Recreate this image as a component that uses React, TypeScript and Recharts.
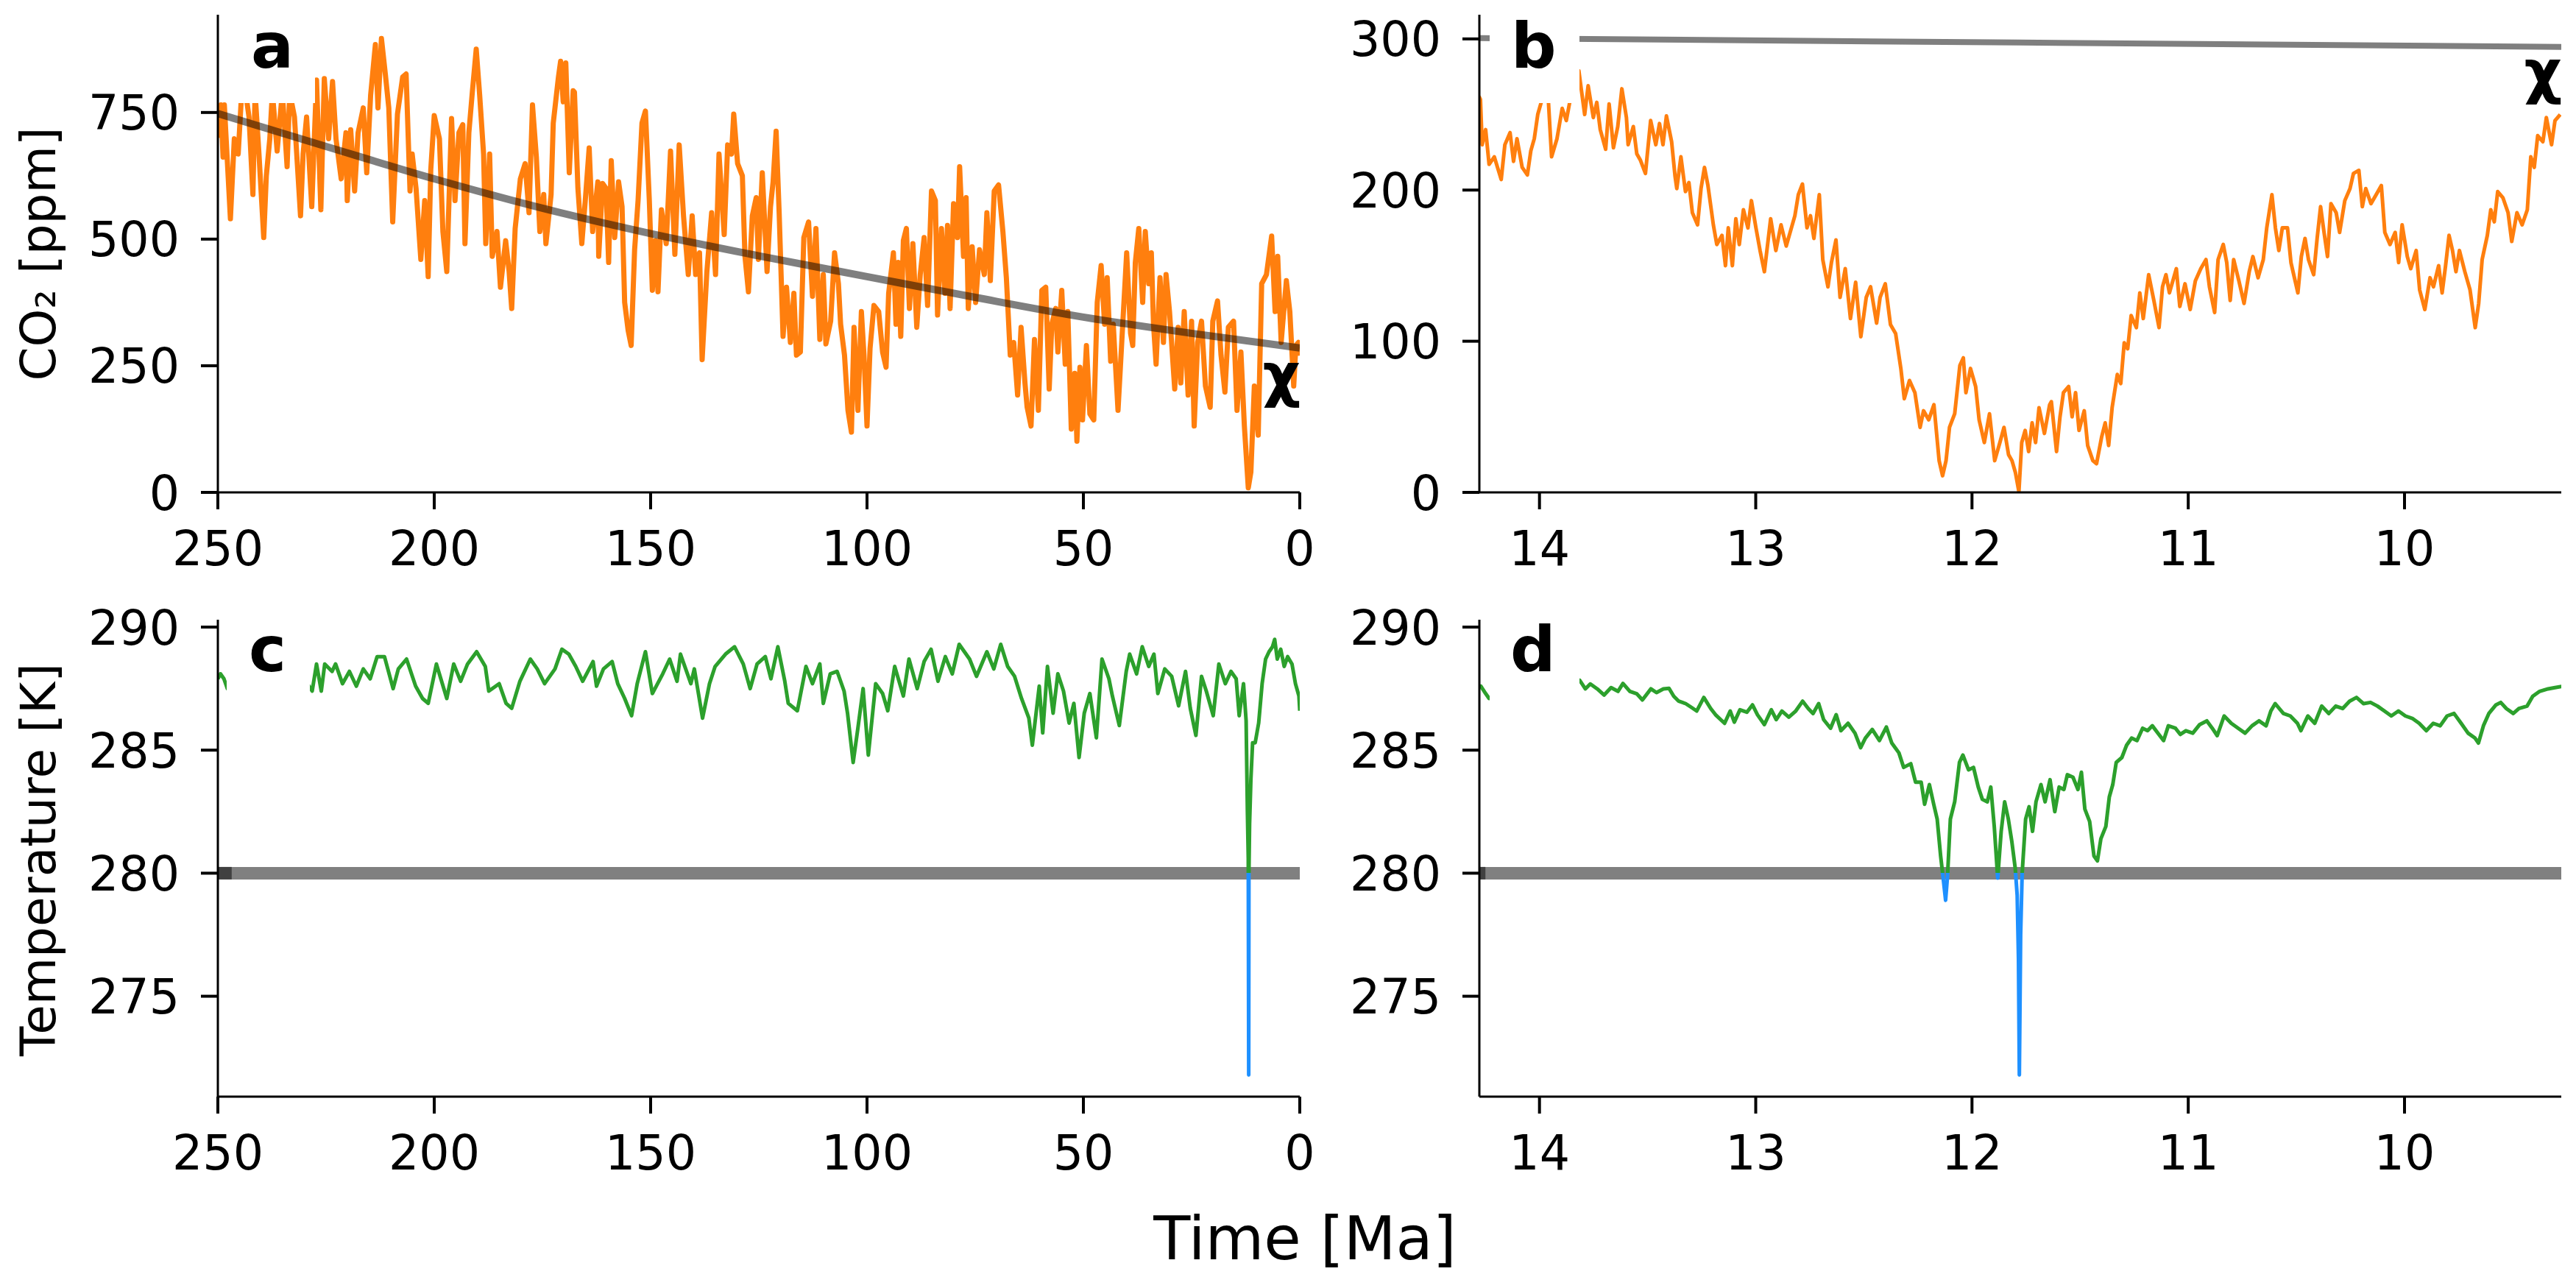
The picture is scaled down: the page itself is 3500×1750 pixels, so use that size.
import React from 'react';
import { LineChart, Line, XAxis, YAxis } from 'recharts';

const FONT = "'DejaVu Sans', sans-serif";

// ---------------- DATA ----------------
// Panel a: CO2 [ppm] vs time [Ma], 250 -> 0
const CO2_LONG: [number, number][] = [
  [250, 700], [249.3, 765], [248.8, 662], [248.5, 765], [247.1, 540], [246.2, 698], [245.3, 668], [244.5, 790], [243.6, 790], [242.8, 741],
  [241.9, 588], [241.4, 790], [240.5, 668], [239.4, 503], [238.8, 625], [238.0, 698], [237.4, 790], [236.3, 674], [235.1, 790], [234.0, 643],
  [233.4, 790], [232.3, 741], [230.9, 546], [230.3, 668], [229.5, 741], [228.3, 564], [227.2, 814], [226.2, 558], [225.4, 817], [224.4, 698],
  [223.5, 811], [222.7, 698], [221.5, 619], [220.4, 710], [220.1, 576], [219.3, 716], [218.4, 595], [217.6, 710], [216.4, 759], [215.6, 631],
  [214.7, 784], [213.6, 884], [213.0, 759], [212.2, 896], [211.3, 826], [210.5, 759], [209.6, 534], [208.5, 747], [207.3, 820], [206.5, 826],
  [205.6, 595], [205.1, 668], [204.2, 600], [203.1, 460], [202.2, 576], [201.4, 426], [200.8, 637], [200.0, 744], [198.8, 698], [198.0, 515],
  [197.1, 436], [196.0, 738], [195.2, 576], [194.3, 710], [193.4, 726], [192.9, 491], [192.0, 710], [191.2, 790], [190.3, 875], [189.5, 784],
  [188.6, 668], [188.1, 491], [187.2, 668], [186.6, 466], [185.5, 515], [184.7, 405], [183.5, 497], [182.7, 436], [182.1, 363], [181.3, 521],
  [180.1, 619], [179.0, 649], [178.1, 552], [177.3, 765], [176.4, 662], [175.6, 515], [174.7, 588], [174.2, 491], [173.0, 588], [172.5, 729],
  [171.3, 820], [170.8, 851], [170.2, 771], [169.6, 848], [168.8, 631], [167.9, 793], [167.6, 790], [166.8, 600], [165.9, 491], [165.1, 576],
  [164.2, 680], [163.4, 515], [162.2, 613], [162.0, 466], [161.1, 610], [160.3, 600], [159.7, 454], [159.1, 655], [158.3, 503], [157.4, 613],
  [156.6, 564], [156.0, 375], [155.2, 320], [154.5, 290], [153.7, 479], [152.9, 576], [152.0, 729], [151.2, 753], [150.3, 576], [149.6, 399],
  [148.9, 497], [148.3, 396], [147.5, 558], [146.4, 491], [145.4, 674], [144.4, 470], [143.4, 686], [142.4, 546], [141.3, 430], [140.4, 546],
  [139.6, 430], [138.7, 473], [138.1, 262], [137.0, 436], [135.9, 552], [135.0, 430], [134.2, 668], [133.0, 509], [132.2, 686], [131.3, 668],
  [130.8, 747], [129.9, 649], [128.8, 625], [128.2, 466], [127.4, 396], [126.5, 546], [125.6, 582], [125.1, 460], [124.2, 631], [123.1, 436],
  [122.3, 564], [121.7, 613], [121.0, 713], [120.3, 552], [119.4, 308], [118.6, 405], [117.7, 296], [116.9, 393], [116.3, 271], [115.4, 277],
  [114.6, 503], [113.5, 534], [112.6, 387], [111.8, 521], [110.9, 302], [110.1, 430], [109.5, 293], [108.4, 338], [107.5, 473], [106.6, 412],
  [106.1, 332], [105.2, 271], [104.4, 162], [103.6, 119], [103.0, 326], [102.1, 162], [101.3, 357], [100.7, 271], [100.0, 131], [99.3, 284],
  [98.4, 369], [97.3, 357], [96.4, 277], [95.6, 247], [95.0, 393], [93.9, 473], [93.3, 332], [92.8, 454], [92.2, 308], [91.6, 497],
  [90.9, 521], [90.2, 363], [89.4, 491], [88.5, 326], [87.7, 430], [86.8, 503], [86.0, 369], [85.1, 595], [84.2, 576], [83.7, 350],
  [82.8, 521], [82.0, 393], [81.4, 527], [80.8, 363], [80.0, 570], [79.1, 503], [78.6, 643], [77.7, 466], [77.1, 582], [76.6, 363],
  [75.7, 485], [74.9, 375], [74.0, 479], [72.9, 430], [72.3, 552], [71.5, 418], [70.6, 595], [69.6, 607], [68.6, 515], [67.8, 424],
  [66.9, 271], [66.1, 296], [65.2, 192], [64.4, 326], [63.5, 216], [63.0, 168], [62.1, 131], [61.3, 302], [60.4, 162], [59.6, 399],
  [58.7, 405], [57.9, 204], [57.3, 332], [56.4, 363], [55.9, 277], [55.0, 399], [54.2, 253], [53.6, 357], [52.8, 125], [52.0, 235],
  [51.5, 101], [50.8, 247], [50.2, 143], [49.3, 290], [48.5, 155], [47.6, 143], [46.8, 375], [45.9, 448], [45.1, 332], [44.5, 424],
  [43.7, 259], [43.1, 332], [42.0, 162], [41.1, 302], [40.0, 473], [39.1, 314], [38.6, 290], [38.0, 454], [37.2, 521], [36.3, 375],
  [35.7, 515], [34.9, 412], [34.3, 473], [33.8, 332], [33.2, 253], [32.3, 424], [31.5, 296], [30.9, 430], [30.1, 357], [28.9, 204],
  [28.1, 326], [27.5, 216], [26.7, 357], [25.8, 192], [25.0, 338], [24.4, 131], [23.6, 296], [22.7, 338], [21.8, 210], [20.7, 168],
  [20.1, 338], [19.0, 378], [18.2, 271], [17.3, 198], [16.5, 326], [15.3, 338], [14.5, 162], [13.6, 277], [12.8, 131], [11.9, 9],
  [11.3, 40], [10.5, 210], [9.6, 113], [8.8, 412], [7.7, 430], [6.5, 506], [5.7, 357], [5.1, 466], [4.3, 296], [3.1, 418],
  [2.3, 357], [1.4, 210], [0.9, 290], [0.3, 296], [0, 270],
];

const CO2_LONG_TREND: [number, number][] = [
  [250, 748], [225, 683], [200, 619], [175, 561], [150, 511], [125, 467], [100, 426], [75, 385], [50, 346], [25, 314], [0, 285],
];

// Panel b: CO2 [ppm], 14.3 -> 9.3 Ma
const CO2_ZOOM: [number, number][] = [
  [14.28, 262], [14.273, 260], [14.265, 230], [14.249, 240], [14.233, 217], [14.209, 222], [14.177, 207], [14.16, 230], [14.136, 238], [14.12, 219],
  [14.104, 234], [14.08, 215], [14.056, 210], [14.04, 226], [14.024, 234], [14.008, 250], [13.984, 262], [13.96, 262], [13.944, 222], [13.919, 234],
  [13.895, 254], [13.876, 246], [13.855, 262], [13.835, 272], [13.818, 279], [13.807, 267], [13.791, 250], [13.775, 269], [13.751, 248], [13.735, 258],
  [13.719, 240], [13.694, 227], [13.678, 257], [13.658, 228], [13.638, 242], [13.619, 267], [13.598, 248], [13.59, 230], [13.566, 242], [13.55, 224],
  [13.534, 220], [13.51, 211], [13.486, 246], [13.462, 230], [13.445, 244], [13.429, 230], [13.413, 249], [13.389, 232], [13.373, 209], [13.365, 201],
  [13.346, 222], [13.325, 199], [13.309, 205], [13.293, 185], [13.269, 177], [13.253, 201], [13.237, 215], [13.221, 203], [13.196, 177], [13.18, 164],
  [13.156, 170], [13.14, 150], [13.127, 175], [13.108, 150], [13.092, 181], [13.076, 164], [13.057, 187], [13.036, 175], [13.02, 193], [12.999, 175],
  [12.98, 160], [12.96, 146], [12.931, 181], [12.907, 160], [12.883, 177], [12.859, 163], [12.835, 175], [12.819, 183], [12.803, 197], [12.784, 204],
  [12.763, 175], [12.747, 183], [12.731, 168], [12.706, 197], [12.69, 154], [12.666, 136], [12.65, 152], [12.629, 167], [12.61, 129], [12.586, 148],
  [12.562, 115], [12.538, 139], [12.514, 103], [12.489, 129], [12.469, 136], [12.441, 112], [12.425, 129], [12.401, 138], [12.377, 111], [12.353, 105],
  [12.329, 82], [12.313, 62], [12.289, 74], [12.264, 66], [12.24, 43], [12.224, 54], [12.2, 48], [12.176, 58], [12.152, 21], [12.136, 11],
  [12.12, 21], [12.104, 43], [12.08, 52], [12.056, 84], [12.04, 89], [12.028, 66], [12.007, 82], [11.983, 70], [11.967, 48], [11.943, 33],
  [11.919, 52], [11.895, 21], [11.871, 33], [11.852, 43], [11.831, 25], [11.815, 21], [11.799, 13], [11.783, 0.5], [11.77, 33], [11.754, 41],
  [11.738, 27], [11.722, 46], [11.706, 33], [11.69, 56], [11.665, 39], [11.641, 58], [11.633, 60], [11.609, 27], [11.593, 50], [11.577, 66],
  [11.553, 70], [11.537, 50], [11.521, 66], [11.505, 41], [11.481, 54], [11.465, 31], [11.441, 21], [11.424, 19], [11.4, 37], [11.384, 46],
  [11.368, 31], [11.352, 56], [11.328, 78], [11.312, 72], [11.296, 99], [11.28, 95], [11.264, 117], [11.24, 109], [11.224, 132], [11.208, 115],
  [11.183, 144], [11.159, 127], [11.135, 109], [11.119, 136], [11.103, 144], [11.087, 132], [11.055, 148], [11.039, 123], [11.015, 138], [10.991, 121],
  [10.967, 140], [10.942, 148], [10.918, 154], [10.902, 136], [10.878, 119], [10.862, 154], [10.838, 164], [10.822, 152], [10.806, 127], [10.79, 154],
  [10.766, 140], [10.742, 125], [10.718, 146], [10.701, 156], [10.677, 142], [10.653, 154], [10.637, 175], [10.613, 197], [10.597, 175], [10.581, 160],
  [10.565, 175], [10.541, 175], [10.525, 152], [10.493, 132], [10.477, 156], [10.46, 168], [10.444, 154], [10.42, 144], [10.404, 168], [10.388, 189],
  [10.372, 172], [10.356, 156], [10.34, 191], [10.316, 185], [10.3, 172], [10.276, 193], [10.252, 201], [10.236, 211], [10.211, 213], [10.195, 189],
  [10.179, 201], [10.155, 191], [10.131, 197], [10.107, 203], [10.091, 172], [10.067, 164], [10.043, 172], [10.027, 152], [10.011, 177], [9.987, 156],
  [9.971, 148], [9.946, 160], [9.93, 134], [9.906, 121], [9.882, 142], [9.866, 136], [9.842, 150], [9.826, 132], [9.81, 150], [9.794, 170],
  [9.778, 160], [9.762, 146], [9.746, 160], [9.721, 146], [9.697, 134], [9.673, 109], [9.657, 125], [9.641, 154], [9.617, 170], [9.601, 187],
  [9.585, 179], [9.569, 199], [9.545, 195], [9.521, 185], [9.504, 166], [9.48, 185], [9.456, 177], [9.432, 187], [9.416, 222], [9.4, 215],
  [9.384, 236], [9.36, 232], [9.344, 248], [9.32, 230], [9.304, 246], [9.28, 250],
];

const CO2_ZOOM_TREND: [number, number][] = [[14.28, 300.5], [11.78, 297.6], [9.275, 294.7]];

// Panel c: temperature [K], 250 -> 0 Ma
const TEMP_LONG: [number, number][] = [
  [250, 287.9], [249.4, 288.1], [248.6, 287.9], [247.8, 287.5], [244, 288.0], [240, 288.2], [235, 288.3], [230, 287.9], [228.2, 287.4], [227.2, 288.5],
  [226.1, 287.4], [225.3, 288.5], [223.6, 288.2], [222.8, 288.5], [221.2, 287.7], [219.6, 288.2], [218.0, 287.6], [216.4, 288.3], [214.8, 287.9], [213.2, 288.8],
  [211.5, 288.8], [209.5, 287.5], [208.3, 288.3], [206.4, 288.7], [204.3, 287.6], [202.7, 287.1], [201.4, 286.9], [199.5, 288.5], [197.1, 287.1], [195.5, 288.5],
  [193.9, 287.8], [192.3, 288.5], [190.2, 289.0], [188.2, 288.4], [187.4, 287.4], [185.0, 287.7], [183.4, 286.9], [182.1, 286.7], [180.2, 287.8], [177.8, 288.7],
  [176.2, 288.3], [174.5, 287.7], [172.1, 288.3], [170.5, 289.1], [168.9, 288.9], [167.3, 288.4], [165.7, 287.8], [163.3, 288.6], [162.5, 287.6], [160.9, 288.3],
  [158.9, 288.6], [157.6, 287.7], [156.0, 287.1], [154.4, 286.4], [153.1, 287.7], [151.2, 289.0], [149.6, 287.3], [147.2, 288.1], [145.6, 288.7], [143.9, 287.8],
  [143.1, 288.9], [140.7, 287.7], [139.9, 288.3], [138.0, 286.3], [136.4, 287.7], [135.1, 288.4], [132.7, 288.9], [130.6, 289.2], [128.6, 288.5], [127.0, 287.5],
  [125.4, 288.5], [123.5, 288.8], [122.2, 287.9], [120.6, 289.2], [119.0, 287.8], [118.2, 286.9], [116.1, 286.6], [114.1, 288.4], [112.6, 287.7], [110.9, 288.5],
  [110.1, 286.9], [108.5, 288.1], [106.9, 288.2], [105.3, 287.4], [104.5, 286.5], [103.2, 284.5], [102.1, 285.9], [100.9, 287.5], [99.7, 284.8], [98.0, 287.7],
  [96.4, 287.3], [95.2, 286.6], [93.6, 288.4], [91.6, 287.2], [90.3, 288.7], [88.4, 287.5], [86.8, 288.6], [85.2, 289.1], [83.6, 287.8], [81.9, 288.8],
  [80.3, 288.1], [78.7, 289.3], [76.3, 288.7], [74.7, 288.0], [72.3, 289.0], [70.7, 288.3], [69.1, 289.3], [67.5, 288.4], [65.9, 288.0], [64.3, 287.1],
  [62.6, 286.3], [61.8, 285.2], [60.2, 287.6], [59.4, 285.7], [58.3, 288.4], [57.0, 286.5], [55.9, 288.1], [54.6, 287.4], [53.3, 286.1], [52.2, 286.9],
  [51.0, 284.7], [49.8, 286.5], [48.5, 287.3], [47.0, 285.5], [45.7, 288.7], [44.1, 287.9], [43.3, 287.2], [41.7, 286.0], [40.1, 288.2], [39.3, 288.9],
  [37.7, 288.1], [36.4, 289.2], [34.9, 288.4], [33.7, 288.9], [32.8, 287.3], [31.2, 288.3], [29.6, 288.0], [28.0, 286.8], [26.4, 288.2], [25.3, 286.7],
  [24.0, 285.6], [22.7, 288.0], [21.6, 287.4], [20.0, 286.4], [18.7, 288.5], [17.2, 287.7], [15.9, 288.2], [14.7, 287.9], [14.0, 286.4], [13.0, 287.7],
  [12.4, 286.2], [12.1, 282.5], [11.9, 280.6], [11.8, 271.8], [11.75, 280.0], [11.6, 282.0], [11.3, 283.8], [10.9, 285.3], [10.3, 285.3], [9.5, 286.1],
  [8.7, 287.7], [7.9, 288.7], [7.1, 289.0], [6.3, 289.2], [5.8, 289.5], [5.2, 288.7], [4.4, 289.1], [3.6, 288.4], [2.8, 288.8], [1.8, 288.5],
  [1.0, 287.7], [0.2, 287.2], [0, 286.6],
];

// Panel d: temperature [K], 14.3 -> 9.3 Ma
const TEMP_ZOOM: [number, number][] = [
  [14.28, 287.6], [14.271, 287.6], [14.249, 287.3], [14.233, 287.1], [14.1, 287.5], [14.0, 287.7], [13.9, 287.6], [13.814, 287.84], [13.788, 287.49], [13.765, 287.69],
  [13.733, 287.49], [13.701, 287.24], [13.669, 287.54], [13.637, 287.39], [13.614, 287.71], [13.582, 287.39], [13.55, 287.29], [13.524, 287.04], [13.485, 287.49], [13.459, 287.34],
  [13.427, 287.49], [13.401, 287.51], [13.379, 287.19], [13.356, 286.99], [13.324, 286.89], [13.298, 286.74], [13.273, 286.59], [13.24, 287.14], [13.208, 286.69], [13.186, 286.44],
  [13.144, 286.09], [13.118, 286.59], [13.099, 286.14], [13.073, 286.64], [13.041, 286.54], [13.015, 286.84], [12.992, 286.44], [12.96, 286.04], [12.928, 286.64], [12.905, 286.24],
  [12.879, 286.59], [12.847, 286.34], [12.815, 286.59], [12.783, 286.99], [12.757, 286.69], [12.735, 286.49], [12.709, 286.89], [12.686, 286.24], [12.654, 285.89], [12.628, 286.44],
  [12.606, 285.79], [12.573, 286.09], [12.541, 285.69], [12.515, 285.1], [12.493, 285.49], [12.461, 285.84], [12.428, 285.39], [12.396, 285.94], [12.371, 285.29], [12.338, 284.89],
  [12.316, 284.3], [12.283, 284.45], [12.261, 283.7], [12.235, 283.7], [12.219, 282.8], [12.197, 283.6], [12.177, 282.8], [12.161, 282.2], [12.145, 280.7], [12.132, 279.7],
  [12.122, 278.9], [12.113, 279.9], [12.1, 282.2], [12.08, 282.9], [12.058, 284.5], [12.042, 284.8], [12.016, 284.2], [11.993, 284.3], [11.971, 283.5], [11.952, 283.0],
  [11.929, 282.9], [11.913, 283.5], [11.897, 281.9], [11.881, 279.8], [11.865, 281.7], [11.849, 282.9], [11.832, 282.2], [11.816, 281.3], [11.8, 280.2], [11.791, 279.1],
  [11.785, 276.5], [11.781, 271.8], [11.775, 277.5], [11.768, 280.0], [11.752, 282.2], [11.736, 282.7], [11.72, 281.7], [11.704, 282.9], [11.681, 283.6], [11.662, 282.9],
  [11.639, 283.8], [11.617, 282.5], [11.597, 283.5], [11.575, 283.4], [11.559, 284.0], [11.533, 283.9], [11.51, 283.4], [11.494, 284.1], [11.478, 282.6], [11.456, 282.1],
  [11.436, 280.7], [11.42, 280.5], [11.404, 281.4], [11.381, 281.9], [11.365, 283.1], [11.349, 283.6], [11.333, 284.5], [11.307, 284.7], [11.285, 285.2], [11.262, 285.49],
  [11.237, 285.39], [11.211, 285.89], [11.188, 285.79], [11.166, 285.99], [11.14, 285.69], [11.114, 285.39], [11.092, 285.99], [11.059, 285.89], [11.037, 285.64], [11.011, 285.79],
  [10.979, 285.69], [10.947, 286.04], [10.914, 286.19], [10.889, 285.89], [10.866, 285.59], [10.834, 286.39], [10.801, 286.09], [10.769, 285.89], [10.737, 285.69], [10.705, 285.99],
  [10.673, 286.19], [10.64, 285.99], [10.618, 286.59], [10.598, 286.89], [10.56, 286.49], [10.528, 286.39], [10.495, 286.09], [10.479, 285.79], [10.447, 286.39], [10.415, 286.09],
  [10.383, 286.79], [10.35, 286.49], [10.318, 286.79], [10.286, 286.69], [10.254, 286.99], [10.222, 287.14], [10.189, 286.89], [10.157, 286.94], [10.125, 286.79], [10.093, 286.59],
  [10.061, 286.39], [10.028, 286.59], [9.996, 286.39], [9.964, 286.29], [9.932, 286.09], [9.899, 285.79], [9.867, 286.09], [9.835, 285.99], [9.803, 286.39], [9.771, 286.49],
  [9.738, 286.09], [9.706, 285.69], [9.674, 285.49], [9.658, 285.29], [9.635, 285.99], [9.61, 286.49], [9.577, 286.84], [9.555, 286.94], [9.529, 286.69], [9.497, 286.49],
  [9.471, 286.69], [9.433, 286.79], [9.407, 287.19], [9.375, 287.39], [9.336, 287.49], [9.304, 287.54], [9.271, 287.59],
];

const THRESHOLD_LONG: [number, number][] = [[250, 280], [0, 280]];
const THRESHOLD_LONG_EDGE: [number, number][] = [[250, 280], [246.8, 280]];
const THRESHOLD_ZOOM: [number, number][] = [[14.28, 280], [9.275, 280]];
const THRESHOLD_ZOOM_EDGE: [number, number][] = [[14.28, 280], [14.25, 280]];

const X_LONG_DOMAIN = [0, 250];
const X_LONG_TICKS = [0, 50, 100, 150, 200, 250];
const X_ZOOM_DOMAIN = [9.275, 14.278];
const X_ZOOM_TICKS = [10, 11, 12, 13, 14];
const Y_CO2_LONG_DOMAIN = [0, 943];
const Y_CO2_LONG_TICKS = [0, 250, 500, 750];
const Y_CO2_ZOOM_DOMAIN = [0, 316];
const Y_CO2_ZOOM_TICKS = [0, 100, 200, 300];
const Y_TEMP_DOMAIN = [270.92, 290.3];
const Y_TEMP_TICKS = [275, 280, 285, 290];
const FREEZE_K = 280;

const toPts = (arr: [number, number][]) => arr.map(([t, v]) => ({ t, v }));

// ---------------- COMPONENTS ----------------
const XTick = (props: any) => (
  <text x={props.x} y={props.y + 76} textAnchor="middle" fontSize={65} fontFamily={FONT} fill="#000">
    {props.payload.value}
  </text>
);
const YTick = (props: any) => (
  <text x={props.x} y={props.y + 23.5} textAnchor="end" fontSize={65} fontFamily={FONT} fill="#000">
    {props.payload.value}
  </text>
);

const AXLINE = { stroke: '#000', strokeWidth: 3 };
const TICKLINE = { stroke: '#000', strokeWidth: 4 };

function Panel({ pos, xDomain, xTicks, yDomain, yTicks, extra, children }: any) {
  const xh = pos.height - pos.mTop - pos.plotH;
  return (
    <div style={{ position: 'absolute', left: pos.left, top: pos.top }}>
      <LineChart
        width={pos.width}
        height={pos.height}
        margin={{ top: pos.mTop, right: pos.mRight, left: 0, bottom: 0 }}
      >
        {extra}
        <XAxis
          type="number"
          dataKey="t"
          domain={xDomain}
          ticks={xTicks}
          reversed
          allowDataOverflow
          interval={0}
          height={xh}
          tickSize={23}
          tickMargin={0}
          axisLine={AXLINE}
          tickLine={TICKLINE}
          tick={<XTick />}
        />
        <YAxis
          type="number"
          domain={yDomain}
          ticks={yTicks}
          allowDataOverflow
          interval={0}
          width={pos.yAxisW}
          tickSize={23}
          tickMargin={29}
          axisLine={AXLINE}
          tickLine={TICKLINE}
          tick={<YTick />}
        />
        {children}
      </LineChart>
    </div>
  );
}

const POS_A = { left: 0, top: 0, width: 1800, height: 810, mTop: 20, mRight: 34, plotH: 649, yAxisW: 296 };
const POS_B = { left: 1800, top: 0, width: 1700, height: 810, mTop: 20, mRight: 20, plotH: 649, yAxisW: 210 };
const POS_C = { left: 0, top: 810, width: 1800, height: 870, mTop: 32, mRight: 34, plotH: 648, yAxisW: 296 };
const POS_D = { left: 1800, top: 810, width: 1700, height: 870, mTop: 32, mRight: 20, plotH: 648, yAxisW: 210 };

const tempGradient = (id: string, pos: any) => {
  const off = (Y_TEMP_DOMAIN[1] - FREEZE_K) / (Y_TEMP_DOMAIN[1] - Y_TEMP_DOMAIN[0]);
  return (
    <defs>
      <linearGradient id={id} x1="0" y1={pos.mTop} x2="0" y2={pos.mTop + pos.plotH} gradientUnits="userSpaceOnUse">
        <stop offset={off} stopColor="#2ca02c" />
        <stop offset={off} stopColor="#1e90ff" />
      </linearGradient>
    </defs>
  );
};

const lineCommon = {
  type: 'linear' as const,
  dataKey: 'v',
  dot: false,
  activeDot: false,
  isAnimationActive: false,
  strokeLinejoin: 'round' as const,
};

export default function App() {
  const labelStyle = { fontFamily: FONT, fill: '#000' };
  return (
    <div style={{ position: 'absolute', left: 0, top: 0, width: 3500, height: 1750, background: '#fff', overflow: 'hidden' }}>
      <Panel pos={POS_A} xDomain={X_LONG_DOMAIN} xTicks={X_LONG_TICKS} yDomain={Y_CO2_LONG_DOMAIN} yTicks={Y_CO2_LONG_TICKS}>
        <Line {...lineCommon} data={toPts(CO2_LONG)} stroke="#ff7f0e" strokeWidth={7} />
        <Line {...lineCommon} type="monotone" data={toPts(CO2_LONG_TREND)} stroke="#000" strokeOpacity={0.5} strokeWidth={10} />
      </Panel>
      <Panel pos={POS_B} xDomain={X_ZOOM_DOMAIN} xTicks={X_ZOOM_TICKS} yDomain={Y_CO2_ZOOM_DOMAIN} yTicks={Y_CO2_ZOOM_TICKS}>
        <Line {...lineCommon} data={toPts(CO2_ZOOM)} stroke="#ff7f0e" strokeWidth={5} />
        <Line {...lineCommon} data={toPts(CO2_ZOOM_TREND)} stroke="#000" strokeOpacity={0.5} strokeWidth={8} />
      </Panel>
      <Panel pos={POS_C} xDomain={X_LONG_DOMAIN} xTicks={X_LONG_TICKS} yDomain={Y_TEMP_DOMAIN} yTicks={Y_TEMP_TICKS} extra={tempGradient('gradTempC', POS_C)}>
        <Line {...lineCommon} data={toPts(THRESHOLD_LONG)} stroke="#808080" strokeWidth={17} />
        <Line {...lineCommon} data={toPts(THRESHOLD_LONG_EDGE)} stroke="#404040" strokeWidth={17} />
        <Line {...lineCommon} data={toPts(TEMP_LONG)} stroke="url(#gradTempC)" strokeWidth={5} />
      </Panel>
      <Panel pos={POS_D} xDomain={X_ZOOM_DOMAIN} xTicks={X_ZOOM_TICKS} yDomain={Y_TEMP_DOMAIN} yTicks={Y_TEMP_TICKS} extra={tempGradient('gradTempD', POS_D)}>
        <Line {...lineCommon} data={toPts(THRESHOLD_ZOOM)} stroke="#808080" strokeWidth={17} />
        <Line {...lineCommon} data={toPts(THRESHOLD_ZOOM_EDGE)} stroke="#404040" strokeWidth={17} />
        <Line {...lineCommon} data={toPts(TEMP_ZOOM)} stroke="url(#gradTempD)" strokeWidth={5} />
      </Panel>

      <svg width={3500} height={1750} style={{ position: 'absolute', left: 0, top: 0, pointerEvents: 'none' }}>
        {/* panel label boxes */}
        <rect x={312} y={0} width={116} height={140} fill="#fff" />
        <rect x={2024} y={0} width={122} height={140} fill="#fff" />
        <rect x={308} y={830} width={113} height={130} fill="#fff" />
        <rect x={2024} y={830} width={122} height={130} fill="#fff" />
        <text x={341} y={91.5} fontSize={86} fontWeight="bold" {...labelStyle}>a</text>
        <text x={2053} y={91.5} fontSize={86} fontWeight="bold" {...labelStyle}>b</text>
        <text x={338} y={912} fontSize={86} fontWeight="bold" {...labelStyle}>c</text>
        <text x={2052} y={912} fontSize={86} fontWeight="bold" {...labelStyle}>d</text>
        <text x={1767} y={537} fontSize={80} fontWeight="bold" textAnchor="end" {...labelStyle}>χ</text>
        <text x={3481} y={125} fontSize={80} fontWeight="bold" textAnchor="end" {...labelStyle}>χ</text>
        {/* axis titles */}
        <text x={75} y={345} fontSize={66} textAnchor="middle" transform="rotate(-90 75 345)" {...labelStyle}>CO₂ [ppm]</text>
        <text x={75} y={1168} fontSize={66} textAnchor="middle" transform="rotate(-90 75 1168)" {...labelStyle}>Temperature [K]</text>
        <text x={1773} y={1711} fontSize={82} textAnchor="middle" {...labelStyle}>Time [Ma]</text>
      </svg>
    </div>
  );
}
